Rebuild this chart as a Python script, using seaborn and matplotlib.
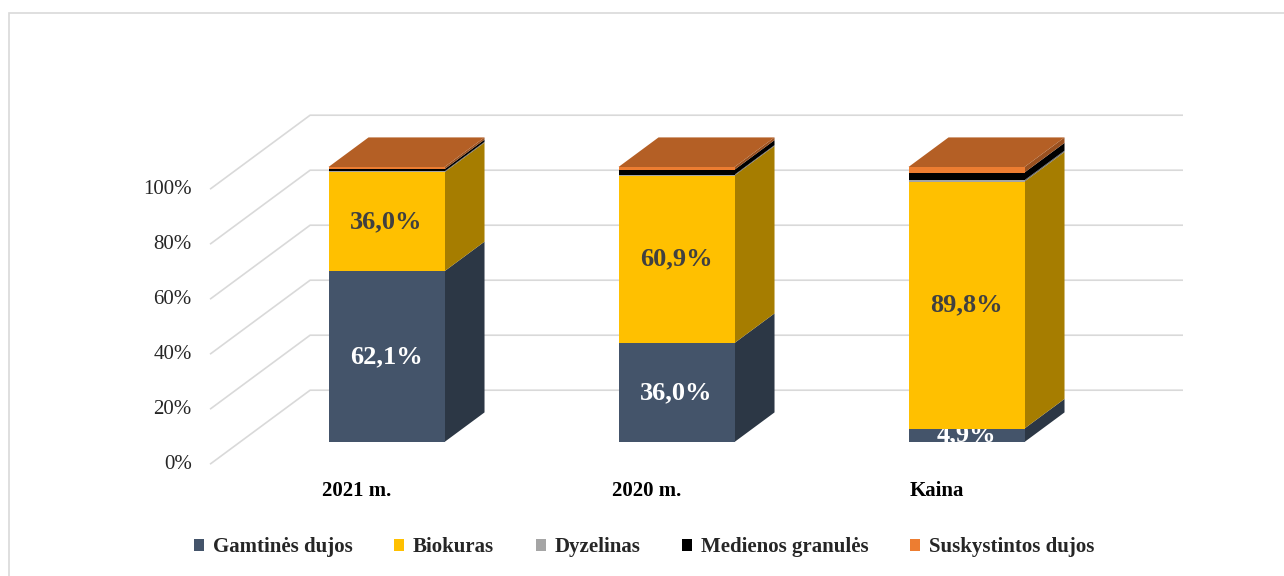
import numpy as np
import matplotlib.pyplot as plt
import matplotlib.colors as mcolors
from matplotlib.patches import Patch, Polygon, Rectangle
import seaborn as sns

# data (shares in %)
categories = ["2021 m.", "2020 m.", "Kaina"]
series = ["Gamtinės dujos", "Biokuras", "Dyzelinas", "Medienos granulės", "Suskystintos dujos"]
gamtines = [62.1, 36.0, 4.9]
biokuras = [36.0, 60.9, 89.8]
dyzelinas = [0.3, 0.3, 0.5]
granules = [0.8, 1.8, 2.8]
suskystintos = [0.8, 1.0, 2.0]
labels_gamtines = ["62,1%", "36,0%", "4,9%"]
labels_biokuras = ["36,0%", "60,9%", "89,8%"]
y_ticks = [0, 20, 40, 60, 80, 100]
y_tick_labels = ["0%", "20%", "40%", "60%", "80%", "100%"]

colors = ["#44546A", "#FFC000", "#A5A5A5", "#000000", "#ED7D31"]

# fake 3D geometry (depth shift in data units, bar front plane is t=0)
DX, DY = 0.345, 26.9
BAR_W = 0.4
T_FRONT, T_BACK, T_WALL = -0.3, 0.4, 0.7
WALL_X = (-0.505, 2.505)


def shade(color, factor):
    """Darker version of a colour for the side / top faces."""
    return tuple(np.array(mcolors.to_rgb(color)) * factor)


def draw_grid(ax):
    """Back wall gridlines with the diagonal floor/front edge part."""
    for v in y_ticks:
        xs = [WALL_X[0] + DX * T_FRONT, WALL_X[0] + DX * T_WALL, WALL_X[1] + DX * T_WALL]
        ys = [v + DY * T_FRONT, v + DY * T_WALL, v + DY * T_WALL]
        ax.plot(xs, ys, color="#D9D9D9", lw=1.2, zorder=1, solid_capstyle="butt")


def draw_stack(ax):
    layers = [gamtines, biokuras, dyzelinas, granules, suskystintos]
    x = np.arange(len(categories))
    bottom = np.zeros(len(categories))
    sx, sy = DX * T_BACK, DY * T_BACK
    containers = []
    for vals, col in zip(layers, colors):
        vals = np.array(vals)
        bars = ax.bar(x, vals, BAR_W, bottom=bottom, color=col, lw=0, zorder=3)
        containers.append(bars)
        for i in range(len(x)):
            xr = x[i] + BAR_W / 2
            y0, y1 = bottom[i], bottom[i] + vals[i]
            side = Polygon([(xr, y0), (xr + sx, y0 + sy), (xr + sx, y1 + sy), (xr, y1)],
                           closed=True, facecolor=shade(col, 0.65), lw=0, zorder=2)
            ax.add_patch(side)
        bottom = bottom + vals
    # top face of the stack
    for i in range(len(x)):
        xl, xr = x[i] - BAR_W / 2, x[i] + BAR_W / 2
        top = bottom[i]
        face = Polygon([(xl, top), (xr, top), (xr + sx, top + sy), (xl + sx, top + sy)],
                       closed=True, facecolor=shade(colors[-1], 0.76), lw=0, zorder=3)
        ax.add_patch(face)
    return containers


def main():
    sns.set_theme(style="white")
    plt.rcParams["font.family"] = ["Liberation Serif", "DejaVu Serif"]

    fig = plt.figure(figsize=(12.84, 5.76), dpi=100)
    ax = fig.add_axes([0, 0, 1, 1])
    ax.set_xlim(-386.5 / 290, (1284 - 386.5) / 290)
    ax.set_ylim(-(576 - 442) / 2.75, 442 / 2.75)
    ax.set_axis_off()

    draw_grid(ax)
    containers = draw_stack(ax)

    # data labels on the two big series
    for bars, labels, col in [(containers[0], labels_gamtines, "white"),
                              (containers[1], labels_biokuras, "#404040")]:
        for patch, lab in zip(bars, labels):
            cx = patch.get_x() + patch.get_width() / 2
            cy = patch.get_y() + patch.get_height() / 2
            t = ax.text(cx, cy, lab, ha="center", va="center", fontsize=19,
                        fontweight="bold", color=col, zorder=5, clip_on=True)
            t.set_clip_path(patch)

    # value axis labels on the front plane
    fx = WALL_X[0] + DX * T_FRONT - 0.063
    for v, lab in zip(y_ticks, y_tick_labels):
        ax.text(fx, v + DY * T_FRONT, lab, ha="right", va="center", fontsize=15,
                color="#262626")

    # category labels
    for i, cat in enumerate(categories):
        ax.text(i + DX * T_FRONT, DY * T_FRONT - 9.7, cat, ha="center", va="center",
                fontsize=15, fontweight="bold", color="black")

    handles = [Patch(facecolor=c, edgecolor="none") for c in colors]
    fig.legend(handles, series, loc="center", bbox_to_anchor=(644 / 1284, 1 - 547 / 576),
               ncol=5, frameon=False, handlelength=0.5, handleheight=0.5,
               handletextpad=0.4, columnspacing=2.0,
               prop={"family": "Liberation Serif", "weight": "bold", "size": 15})

    # chart area border (only top and left edge fall inside the picture)
    fig.patches.append(Rectangle((8.5 / 1284, -0.1), 1.2, 1.1 - 13 / 576,
                                 transform=fig.transFigure, fill=False,
                                 edgecolor="#D9D9D9", lw=1.2))

    fig.savefig("out.png", dpi=100)


if __name__ == "__main__":
    main()
